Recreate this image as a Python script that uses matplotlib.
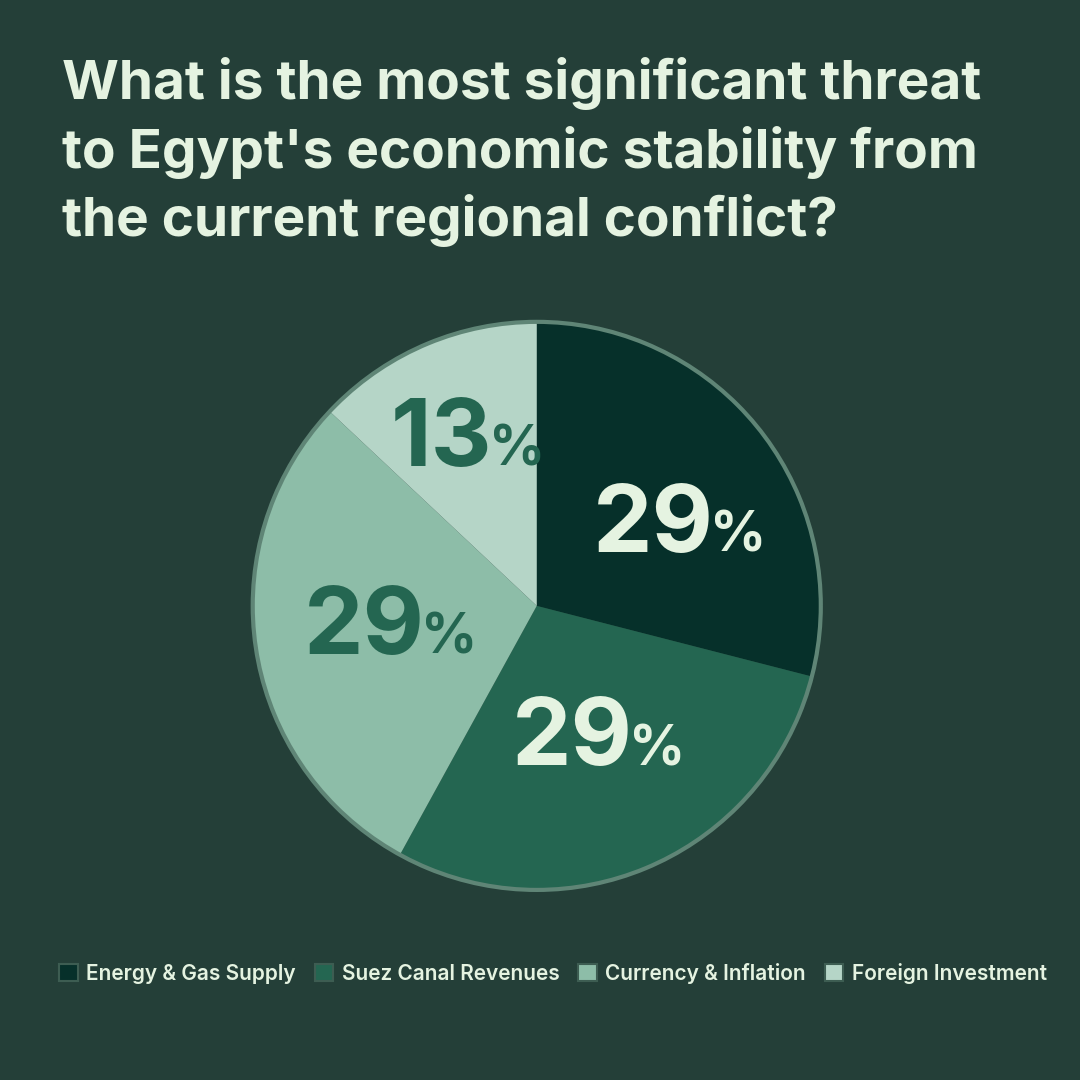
import numpy as np
import matplotlib.pyplot as plt
from matplotlib.patches import Patch

plt.rcParams['font.family'] = ['Inter', 'DejaVu Sans']

categories = ['Energy & Gas Supply', 'Suez Canal Revenues', 'Currency & Inflation', 'Foreign Investment']
values = [29, 29, 29, 13]
labels = ['29', '29', '29', '13']
title = "What is the most significant threat\nto Egypt's economic stability from\nthe current regional conflict?"

bg = '#243f38'
colors = ['#06302a', '#246651', '#8dbda8', '#b5d5c7']
label_colors = ['#e5f3e1', '#e5f3e1', '#246651', '#246651']
label_dist = [0.60, 0.51, 0.50, 0.655]
label_nudge = [-8, 4, -2, 0]
text_color = '#e5f3e1'

fig = plt.figure(figsize=(10.8, 10.8), dpi=100, facecolor=bg)
ax = fig.add_axes([0.234, 0.176, 0.526, 0.526])
ax.set_facecolor(bg)

wedges, _ = ax.pie(values, colors=colors, startangle=90, counterclock=False,
                   wedgeprops=dict(linewidth=0))
# outline ring
ax.pie([sum(values)], colors=['none'], startangle=90,
       wedgeprops=dict(edgecolor='#5f8576', linewidth=3, fill=False))
ax.set_xlim(-1, 1)
ax.set_ylim(-1, 1)
ax.set_aspect('equal')
ax.axis('off')

for w, lab, c, d, n in zip(wedges, labels, label_colors, label_dist, label_nudge):
    ang = np.deg2rad((w.theta1 + w.theta2) / 2 + n)
    x, y = d * np.cos(ang), d * np.sin(ang)
    ax.annotate(lab, (x, y), xytext=(21, -22), textcoords='offset points',
                ha='right', va='baseline', fontsize=68, fontweight='bold', color=c)
    ax.annotate('%', (x, y), xytext=(18.5, -22), textcoords='offset points',
                ha='left', va='baseline', fontsize=40, fontweight='bold', color=c)

fig.text(0.057, 0.947, title, ha='left', va='top', fontsize=39.5, fontweight='bold',
         color=text_color, linespacing=1.37)

handles = [Patch(facecolor=c, edgecolor='#3d5d52', linewidth=1.5) for c in colors]
leg = fig.legend(handles, categories, loc='center', bbox_to_anchor=(0.512, 0.099), ncol=4,
                 frameon=False, prop=dict(family='Inter', weight='semibold', size=15),
                 handlelength=0.9, handleheight=0.9,
                 handletextpad=0.4, columnspacing=0.9)
for t in leg.get_texts():
    t.set_color(text_color)

fig.savefig('out.png', dpi=100, facecolor=bg)
